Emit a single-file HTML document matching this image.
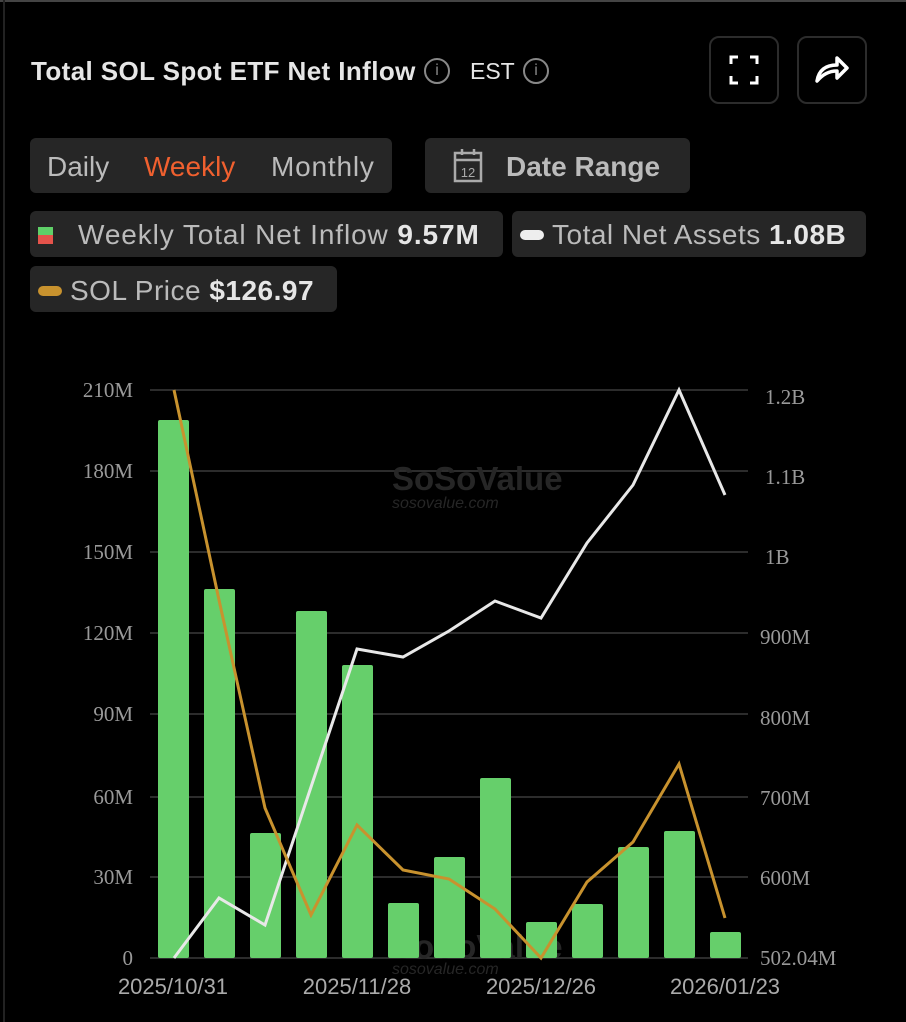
<!DOCTYPE html>
<html><head><meta charset="utf-8"><style>
body{margin:0;background:#000;width:906px;height:1022px;overflow:hidden;font-family:"Liberation Sans",sans-serif;position:relative}
.a{position:absolute}
.box{position:absolute;background:#262626;border-radius:6px}
.t{color:#ccc;font-size:28px;position:absolute;white-space:nowrap}
</style></head><body>
<div class="a" style="left:0;top:0;width:906px;height:2px;background:#444"></div>
<div class="a" style="left:3px;top:0;width:2px;height:1022px;background:#222"></div>
<div class="a" style="left:31px;top:56px;color:#e6e6e6;font-size:26px;font-weight:bold;white-space:nowrap;letter-spacing:0.4px">Total SOL Spot ETF Net Inflow</div>
<div class="a" style="left:424px;top:58px;width:26px;height:26px;border:2px solid #888;border-radius:50%;box-sizing:border-box;color:#888;font-size:16px;text-align:center;line-height:22px">i</div>
<div class="a" style="left:470px;top:58px;color:#e6e6e6;font-size:23px">EST</div>
<div class="a" style="left:523px;top:58px;width:26px;height:26px;border:2px solid #888;border-radius:50%;box-sizing:border-box;color:#888;font-size:16px;text-align:center;line-height:22px">i</div>
<div class="a" style="left:709px;top:36px;width:70px;height:68px;border:2px solid #2c2c2c;border-radius:10px;box-sizing:border-box"></div>
<svg class="a" style="left:729px;top:55px" width="30" height="30"><path d="M2 9V2h7M21 2h7v7M28 21v7h-7M9 28H2v-7" stroke="#fff" stroke-width="3" fill="none"/></svg>
<div class="a" style="left:797px;top:36px;width:70px;height:68px;border:2px solid #2c2c2c;border-radius:10px;box-sizing:border-box"></div>
<svg class="a" style="left:813px;top:53px" width="38" height="34"><path d="M4 28C6 16 14 12 24 12V5l10 10-10 10v-7c-8 0-14 3-20 10z" stroke="#fff" stroke-width="3.5" fill="none" stroke-linejoin="round"/></svg>
<div class="box" style="left:30px;top:138px;width:362px;height:55px"></div>
<div class="t" style="left:47px;top:151px;color:#bbb">Daily</div>
<div class="t" style="left:144px;top:151px;color:#f0602f">Weekly</div>
<div class="t" style="left:271px;top:151px;color:#bbb;letter-spacing:0.8px">Monthly</div>
<div class="box" style="left:425px;top:138px;width:265px;height:55px"></div>
<svg class="a" style="left:453px;top:148px" width="32" height="36"><rect x="2" y="5" width="26" height="28" fill="none" stroke="#aaa" stroke-width="2.5"/><line x1="2" y1="12" x2="28" y2="12" stroke="#aaa" stroke-width="2.5"/><line x1="9" y1="1" x2="9" y2="7" stroke="#aaa" stroke-width="2.5"/><line x1="21" y1="1" x2="21" y2="7" stroke="#aaa" stroke-width="2.5"/><text x="15" y="29" fill="#aaa" font-size="13" text-anchor="middle" font-family="Liberation Sans">12</text></svg>
<div class="t" style="left:506px;top:151px;color:#bbb;font-weight:bold">Date Range</div>
<div class="box" style="left:30px;top:211px;width:473px;height:46px"></div>
<div class="a" style="left:38px;top:227px;width:15px;height:8px;background:#5fd068"></div>
<div class="a" style="left:38px;top:235px;width:15px;height:9px;background:#e5534b"></div>
<div class="t" style="left:78px;top:219px;color:#bbb;letter-spacing:0.9px">Weekly Total Net Inflow <b style="color:#e6e6e6">9.57M</b></div>
<div class="box" style="left:512px;top:211px;width:354px;height:46px"></div>
<div class="a" style="left:520px;top:230px;width:24px;height:10px;background:#eee;border-radius:5px"></div>
<div class="t" style="left:552px;top:219px;color:#bbb;letter-spacing:0.5px">Total Net Assets <b style="color:#e6e6e6">1.08B</b></div>
<div class="box" style="left:30px;top:266px;width:307px;height:46px"></div>
<div class="a" style="left:38px;top:286px;width:24px;height:10px;background:#c8922e;border-radius:5px"></div>
<div class="t" style="left:70px;top:275px;color:#bbb;letter-spacing:0.5px">SOL Price <b style="color:#e6e6e6">$126.97</b></div>
<svg class="a" style="left:0;top:0" width="906" height="1022">
<g stroke="#3a3a3a" stroke-width="1.5">
<line x1="150" y1="390" x2="748" y2="390"/><line x1="150" y1="471" x2="748" y2="471"/><line x1="150" y1="552" x2="748" y2="552"/><line x1="150" y1="633" x2="748" y2="633"/><line x1="150" y1="714" x2="748" y2="714"/><line x1="150" y1="797" x2="748" y2="797"/><line x1="150" y1="877" x2="748" y2="877"/><line x1="150" y1="958" x2="748" y2="958"/></g>
<g font-family="Liberation Serif,serif" font-size="21" fill="#999" text-anchor="end">
<text x="133" y="397">210M</text><text x="133" y="478">180M</text><text x="133" y="559">150M</text><text x="133" y="640">120M</text><text x="133" y="721">90M</text><text x="133" y="804">60M</text><text x="133" y="884">30M</text><text x="133" y="965">0</text></g>
<g font-family="Liberation Serif,serif" font-size="21" fill="#999">
<text x="765" y="404">1.2B</text><text x="765" y="484">1.1B</text><text x="765" y="564">1B</text><text x="760" y="644">900M</text><text x="760" y="725">800M</text><text x="760" y="805">700M</text><text x="760" y="885">600M</text><text x="760" y="965">502.04M</text></g>
<g font-size="33" font-weight="bold" fill="#262626" font-family="Liberation Sans"><text x="392" y="490">SoSoValue</text><text x="392" y="958">SoSoValue</text></g>
<g font-size="16" fill="#262626" font-family="Liberation Sans" font-style="italic"><text x="392" y="508">sosovalue.com</text><text x="392" y="974">sosovalue.com</text></g>
<g fill="#66cf6b">
<rect x="158" y="420" width="31" height="538" rx="2"/><rect x="204" y="589" width="31" height="369" rx="2"/><rect x="250" y="833" width="31" height="125" rx="2"/><rect x="296" y="611" width="31" height="347" rx="2"/><rect x="342" y="665" width="31" height="293" rx="2"/><rect x="388" y="903" width="31" height="55" rx="2"/><rect x="434" y="857" width="31" height="101" rx="2"/><rect x="480" y="778" width="31" height="180" rx="2"/><rect x="526" y="922" width="31" height="36" rx="2"/><rect x="572" y="904" width="31" height="54" rx="2"/><rect x="618" y="847" width="31" height="111" rx="2"/><rect x="664" y="831" width="31" height="127" rx="2"/><rect x="710" y="932" width="31" height="26" rx="2"/></g>
<polyline fill="none" stroke="#e8e8e8" stroke-width="3" points="174,958 219,898 265,925 311,787 357,649 403,657 449,631 495,601 541,618 587,543 633,485 679,390 725,495"/>
<polyline fill="none" stroke="#c8922e" stroke-width="3" points="174,390 219,600 265,808 311,915 357,825 403,870 449,879 495,909 541,958 587,882 633,842 679,764 725,918"/>
<g font-size="22" fill="#aaa" text-anchor="middle" font-family="Liberation Sans">
<text x="173" y="994">2025/10/31</text><text x="357" y="994">2025/11/28</text><text x="541" y="994">2025/12/26</text><text x="725" y="994">2026/01/23</text></g>
</svg>
</body></html>
